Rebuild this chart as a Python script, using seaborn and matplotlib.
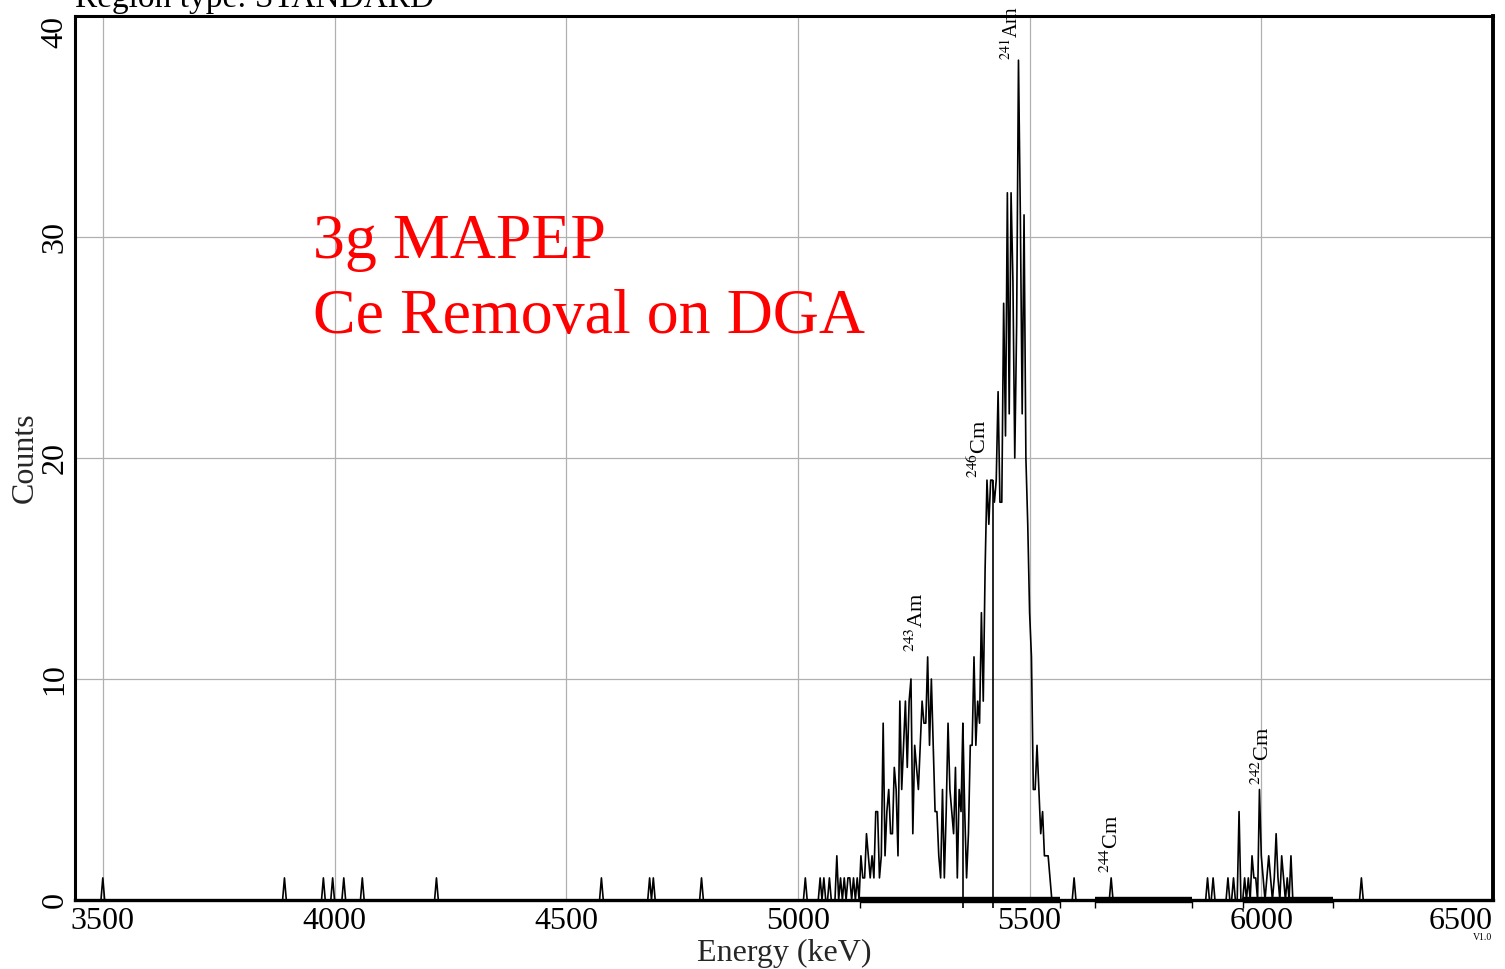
import numpy as np
import pandas as pd
import matplotlib
matplotlib.use("Agg")
import matplotlib.pyplot as plt
import seaborn as sns

# ---------------- data ----------------
channel_width = 4  # keV
energy_min, energy_max = 3440, 6500

# main Am/Cm multiplet (channels starting at 5100 keV)
main_start = 5100
main_counts = [1, 0, 1, 1, 0, 1, 0, 1, 0, 2,
               1, 1, 3, 2, 1, 2, 1, 4, 4, 1,
               2, 8, 2, 4, 5, 3, 3, 6, 5, 2,
               9, 5, 7, 9, 6, 9, 10, 3, 7, 6,
               5, 7, 9, 8, 8, 11, 7, 10, 7, 4,
               4, 2, 1, 5, 1, 4, 8, 5, 4, 3,
               6, 1, 5, 4, 8, 4, 1, 3, 7, 7,
               11, 7, 9, 8, 13, 9, 15, 19, 17, 19,
               19, 18, 19, 23, 18, 18, 27, 21, 32, 22,
               32, 28, 20, 26, 38, 31, 22, 31, 20, 17,
               13, 11, 5, 5, 7, 5, 3, 4, 2, 2,
               2, 1, 0]

# 242Cm region (channels starting at 5948 keV)
cm_start = 5948
cm_counts = [0, 4, 0, 0, 1, 0, 1, 0, 2, 1,
             1, 0, 5, 2, 1, 0, 1, 2, 1, 0,
             1, 3, 1, 0, 2, 1, 0, 1, 0, 2, 0]

# isolated single counts
iso_energy = [3500, 3892, 3976, 3996, 4020, 4060, 4220, 4576, 4680, 4688,
              4792, 5016, 5048, 5056, 5068, 5084, 5092, 5596, 5676, 5884,
              5896, 5928, 5940, 6216]
iso_counts = [1, 1, 1, 1, 1, 1, 1, 1, 1, 1,
              1, 1, 1, 1, 1, 2, 1, 1, 1, 1,
              1, 1, 1, 1]

# peak labels
peak_labels = [r"$^{241}$Am", r"$^{246}$Cm", r"$^{243}$Am", r"$^{244}$Cm", r"$^{242}$Cm"]
peak_label_energy = [5462, 5391, 5257, 5678, 6004]
peak_label_count = [38.0, 19.1, 11.2, 1.2, 5.2]
peak_label_size = [14.5, 16, 16, 16, 16]

# ROI bars on the baseline
roi_start = [5134, 5641, 5961]
roi_end = [5566, 5850, 6155]
roi_marker_energy = [5356, 5420]
roi_marker_count = [8, 19]

x_ticks = [3500, 4000, 4500, 5000, 5500, 6000, 6500]
y_ticks = [0, 10, 20, 30, 40]

# ---------------- build spectrum table ----------------
grid = np.arange(energy_min, energy_max + channel_width, channel_width)
spec = pd.Series(0, index=grid, dtype=float)
for i, c in enumerate(main_counts):
    spec.loc[main_start + i * channel_width] = c
for i, c in enumerate(cm_counts):
    spec.loc[cm_start + i * channel_width] = c
for e, c in zip(iso_energy, iso_counts):
    spec.loc[e] = c
df = pd.DataFrame({"Energy": spec.index, "Counts": spec.values})

# ---------------- plot ----------------
sns.set_theme(style="white")
plt.rcParams["font.family"] = ["Liberation Serif", "DejaVu Serif"]
plt.rcParams["mathtext.fontset"] = "stix"

fig = plt.figure(figsize=(15.05, 9.69), dpi=100)
ax = fig.add_axes([75 / 1505, 1 - 900 / 969, 1418 / 1505, 884 / 969])

sns.lineplot(data=df, x="Energy", y="Counts", estimator=None, ax=ax,
             color="black", linewidth=1.2, zorder=3)

ax.set_xlim(energy_min, energy_max)
ax.set_ylim(0, 40)

ax.set_xticks(x_ticks)
ax.set_xticklabels([str(t) for t in x_ticks], fontsize=23)
ax.set_yticks(y_ticks)
ax.set_yticklabels([str(t) for t in y_ticks], fontsize=23, rotation=90, va="center")
ax.get_yticklabels()[-1].set_va("top")
ax.get_xticklabels()[-1].set_ha("right")
ax.tick_params(axis="x", length=0, pad=5, colors="black")
ax.tick_params(axis="y", length=0, pad=4, colors="black")

ax.grid(True, color="#b0b0b0", linewidth=0.9)
ax.set_axisbelow(True)

for side, lw in [("left", 2.2), ("top", 2.2), ("right", 2.8), ("bottom", 2.4)]:
    ax.spines[side].set_visible(True)
    ax.spines[side].set_color("black")
    ax.spines[side].set_linewidth(lw)
    ax.spines[side].set_zorder(4)

ax.set_xlabel("Energy (keV)", fontsize=23, labelpad=2)
ax.set_ylabel("Counts", fontsize=23)
ax.yaxis.set_label_coords(-0.025, 0.5)

# ROI bars and markers
for s, e in zip(roi_start, roi_end):
    ax.hlines(0, s, e, color="black", linewidth=4.6, zorder=5, clip_on=False)
    ax.vlines([s, e], -0.35, 0, color="black", linewidth=1.0, zorder=5, clip_on=False)
for e, c in zip(roi_marker_energy, roi_marker_count):
    ax.vlines(e, -0.35, c, color="black", linewidth=1.2, zorder=5, clip_on=False)

# peak labels
for lab, e, c, fs in zip(peak_labels, peak_label_energy, peak_label_count, peak_label_size):
    ax.text(e, c, lab, rotation=90, ha="center", va="bottom", fontsize=fs,
            color="black", zorder=6, clip_on=False)

# red annotation
fig.text(313 / 1505, 1 - 258 / 969, "3g MAPEP", color="#ff0000", fontsize=46,
         ha="left", va="baseline")
fig.text(313 / 1505, 1 - 333 / 969, "Ce Removal on DGA", color="#ff0000", fontsize=46,
         ha="left", va="baseline")

# header (cut off at top of scan) and version tag
fig.text(75 / 1505, 1 - 7 / 969, "Region type: STANDARD", fontsize=24,
         ha="left", va="baseline", color="black")
fig.text(1483 / 1505, 1 - 938 / 969, "V1.0", fontsize=7, ha="center", va="center",
         color="black")

fig.savefig("out.png", dpi=100)
